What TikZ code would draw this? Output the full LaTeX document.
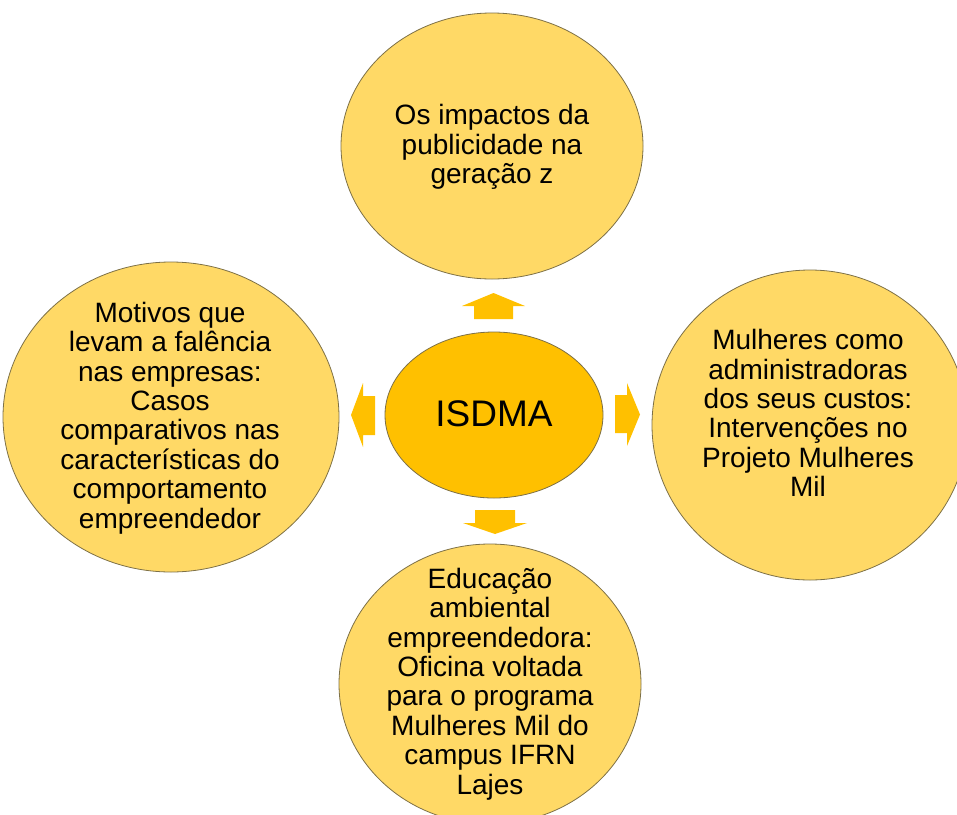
\documentclass[tikz,border=0pt]{standalone}
\usepackage{fontspec}
\setmainfont{Liberation Sans}
\usetikzlibrary{shapes.geometric}
\definecolor{lightgold}{HTML}{FFD966}
\definecolor{gold}{HTML}{FFC000}
\definecolor{rimcol}{RGB}{125,112,70}
\tikzset{
  bubble/.style={ellipse, fill=lightgold, draw=rimcol, line width=0.8pt, inner sep=0pt},
  hub/.style={ellipse, fill=gold, draw=rimcol, line width=0.8pt, inner sep=0pt},
  txt/.style={align=center, font=\fontsize{28}{29.4}\selectfont, text=black},
  blockarrow/.style={fill=gold, draw=none},
}
\begin{document}
\begin{tikzpicture}[x=1pt,y=-1pt]
\useasboundingbox (0,0) rectangle (957,814);
\clip (0,0) rectangle (957,814);
% outer bubbles
\node[bubble, minimum width=302pt, minimum height=266pt] (top) at (492,146) {};
\node[bubble, minimum width=336pt, minimum height=310pt] (left) at (171,417) {};
\node[bubble, minimum width=316pt, minimum height=310pt] (right) at (810,425) {};
\node[bubble, minimum width=302pt, minimum height=280pt] (bottom) at (490,684) {};
% hub
\node[hub, minimum width=218pt, minimum height=166pt] (hub) at (494,415) {};
% texts
\node[txt] (ttop) at (492,147) {Os impactos da\\publicidade na\\geração z};
\node[txt] (tleft) at (170,418) {Motivos que\\levam a falência\\nas empresas:\\Casos\\comparativos nas\\características do\\comportamento\\empreendedor};
\node[txt] (tright) at (808,413) {Mulheres como\\administradoras\\dos seus custos:\\Intervenções no\\Projeto Mulheres\\Mil};
\node[txt] (tbottom) at (490,684) {Educação\\ambiental\\empreendedora:\\Oficina voltada\\para o programa\\Mulheres Mil do\\campus IFRN\\Lajes};
\node[align=center, font=\fontsize{37}{40}\selectfont] (thub) at (494,414) {ISDMA};
% block arrows
\fill[blockarrow] (474,319) -- (474,306) -- (462,306) -- (493.5,293) -- (525,306) -- (513,306) -- (513,319) -- cycle;
\fill[blockarrow] (475,510) -- (515,510) -- (515,523) -- (527,523) -- (495,534) -- (463,523) -- (475,523) -- cycle;
\fill[blockarrow] (615,395) -- (627,395) -- (627,383) -- (640,414.5) -- (627,446) -- (627,433) -- (615,433) -- cycle;
\fill[blockarrow] (375,396) -- (363,396) -- (363,383) -- (351,415) -- (363,447) -- (363,435) -- (375,435) -- cycle;
\end{tikzpicture}
\end{document}
